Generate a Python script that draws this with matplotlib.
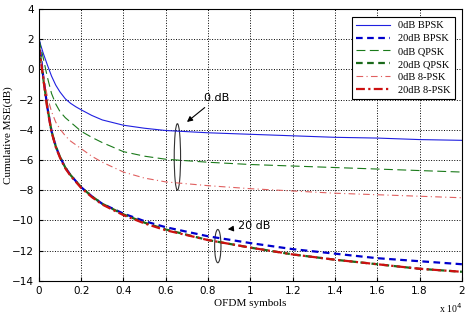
import numpy as np
import matplotlib
matplotlib.use('Agg')
import matplotlib.pyplot as plt
from matplotlib.patches import Ellipse

# symbols (x 10^4)
x = [0, 0.02, 0.04, 0.06, 0.08, 0.1, 0.125, 0.15, 0.175, 0.2, 0.25, 0.3, 0.4, 0.5, 0.6,
     0.8, 1.0, 1.2, 1.4, 1.6, 1.8, 2.0]

bpsk_0 = [2.0, 1.1, 0.3, -0.45, -1.05, -1.5, -1.95, -2.25, -2.48, -2.68, -3.05, -3.35, -3.7,
          -3.9, -4.05, -4.2, -4.3, -4.4, -4.5, -4.55, -4.65, -4.7]
bpsk_20 = [2.0, -0.4, -2.5, -4.1, -5.1, -5.8, -6.5, -7.0, -7.4, -7.8, -8.4, -8.9, -9.55,
           -10.05, -10.45, -11.05, -11.5, -11.9, -12.2, -12.5, -12.7, -12.9]
qpsk_0 = [2.0, 0.8, -0.5, -1.6, -2.3, -2.8, -3.2, -3.5, -3.8, -4.1, -4.5, -4.85, -5.45,
          -5.75, -5.95, -6.15, -6.3, -6.4, -6.5, -6.6, -6.7, -6.8]
qpsk_20 = [1.6, -0.5, -2.5, -4.1, -5.1, -5.8, -6.5, -7.0, -7.4, -7.8, -8.4, -8.9, -9.6,
           -10.15, -10.6, -11.3, -11.8, -12.25, -12.6, -12.9, -13.2, -13.4]
psk8_0 = [1.5, -0.3, -1.8, -2.8, -3.5, -3.95, -4.4, -4.75, -5.0, -5.25, -5.75, -6.15, -6.8,
          -7.2, -7.45, -7.7, -7.9, -8.05, -8.2, -8.3, -8.4, -8.5]
psk8_20 = [1.5, -0.5, -2.6, -4.15, -5.15, -5.85, -6.55, -7.05, -7.45, -7.85, -8.45, -8.95, -9.65,
           -10.2, -10.65, -11.3, -11.8, -12.25, -12.6, -12.9, -13.2, -13.4]

labels = ['0dB BPSK', '20dB BPSK', '0dB QPSK', '20dB QPSK', '0dB 8-PSK', '20dB 8-PSK']

plt.rcParams['font.family'] = 'Liberation Serif'

fig = plt.figure(figsize=(4.68, 3.17), dpi=100)
ax = fig.add_axes([0.083, 0.114, 0.904, 0.858])

ax.plot(x, bpsk_0, color='#2020e0', lw=0.8, label=labels[0])
ax.plot(x, bpsk_20, color='#0000cc', lw=1.6, ls=(0, (3, 2)), label=labels[1])
ax.plot(x, qpsk_0, color='#1a7a1a', lw=0.8, ls=(0, (8, 4)), label=labels[2])
ax.plot(x, qpsk_20, color='#1a6a1a', lw=1.6, ls=(0, (3, 2)), label=labels[3])
ax.plot(x, psk8_0, color='#e06060', lw=0.8, ls=(0, (6, 3, 1, 3)), label=labels[4])
ax.plot(x, psk8_20, color='#cc1010', lw=1.6, ls=(0, (4, 1.5, 1, 1.5)), label=labels[5])

ax.set_xlim(0, 2)
ax.set_ylim(-14, 4)
ax.set_xticks(np.arange(0, 2.01, 0.2))
ax.set_xticklabels(['0', '0.2', '0.4', '0.6', '0.8', '1', '1.2', '1.4', '1.6', '1.8', '2'])
ax.set_yticks(np.arange(-14, 4.1, 2))
ax.tick_params(direction='in', length=3)
for lab in ax.get_xticklabels() + ax.get_yticklabels():
    lab.set_family('DejaVu Sans')
    lab.set_fontsize(7.5)
ax.grid(True, ls=':', color='black', lw=0.7)

ax.set_xlabel('OFDM symbols', fontsize=8, labelpad=2)
ax.set_ylabel('Cumulative MSE(dB)', fontsize=8)
ax.yaxis.set_label_coords(-0.06, 0.535)
ax.text(1.0, -0.075, r'x 10$^4$', transform=ax.transAxes, ha='right', va='top', fontsize=7)

ax.add_patch(Ellipse((0.655, -5.8), 0.03, 4.4, fill=False, ec='#333333', lw=0.8))
ax.add_patch(Ellipse((0.846, -11.7), 0.03, 2.2, fill=False, ec='#333333', lw=0.8))
ax.annotate('0 dB', xy=(0.69, -3.6), xytext=(0.78, -2.1), fontsize=8, family='DejaVu Sans',
            arrowprops=dict(arrowstyle='-|>', color='black', lw=0.8))
ax.annotate('20 dB', xy=(0.88, -10.6), xytext=(0.94, -10.4), fontsize=8, family='DejaVu Sans',
            va='center', arrowprops=dict(arrowstyle='-|>', color='black', lw=0.8))

leg = ax.legend(loc='upper right', fontsize=7.5, fancybox=False, framealpha=1,
                edgecolor='black', borderpad=0.4, labelspacing=0.35, handlelength=3.2,
                bbox_to_anchor=(0.995, 0.99))
leg.get_frame().set_linewidth(0.8)

fig.savefig('out.png', dpi=100)
